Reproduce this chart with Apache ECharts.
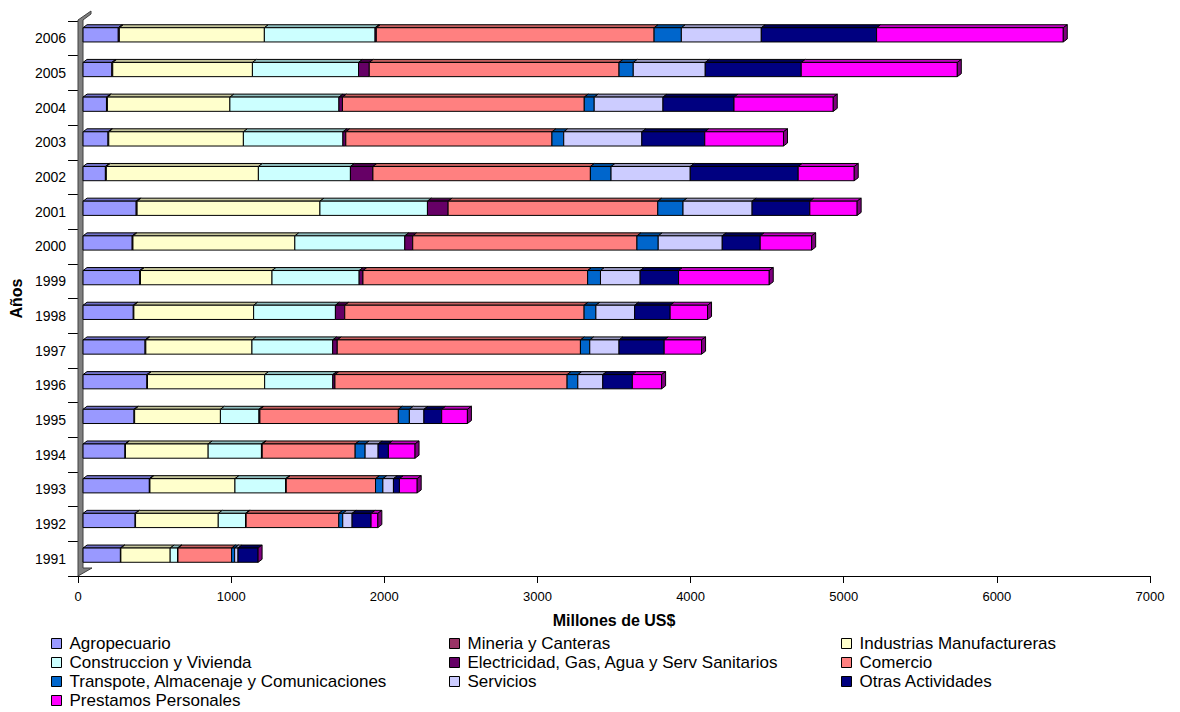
<!DOCTYPE html>
<html>
<head>
<meta charset="utf-8">
<title>Créditos por sector económico 1991-2006</title>
<script src="https://cdn.jsdelivr.net/npm/echarts@6/dist/echarts.min.js"></script>
<style>
  html, body { margin: 0; padding: 0; background: #fff; }
  #chart { width: 1180px; height: 712px; }
</style>
</head>
<body>
<div id="chart"></div>
<script>
// Años (de abajo hacia arriba en el gráfico)
const years = ['1991','1992','1993','1994','1995','1996','1997','1998','1999','2000','2001','2002','2003','2004','2005','2006'];

// Millones de US$ por sector, un valor por año
const agropecuario  = [244, 340, 433, 274, 333, 417, 405, 328, 370, 321, 347, 146, 163, 153, 188, 230];
const mineria       = [3, 3, 4, 3, 4, 4, 5, 4, 5, 5, 6, 6, 5, 6, 6, 7];
const industrias    = [322, 540, 555, 540, 560, 765, 693, 782, 859, 1057, 1194, 993, 879, 800, 912, 947];
const construccion  = [48, 178, 331, 348, 252, 445, 527, 534, 569, 718, 702, 601, 650, 712, 693, 723];
const electricidad  = [3, 4, 4, 5, 6, 14, 30, 61, 25, 52, 135, 147, 19, 23, 70, 8];
const comercio      = [350, 605, 583, 607, 904, 1516, 1588, 1563, 1467, 1464, 1369, 1420, 1346, 1579, 1631, 1814];
const transporte    = [20, 26, 48, 65, 72, 70, 61, 77, 84, 139, 165, 135, 77, 65, 93, 178];
const servicios     = [22, 61, 69, 85, 95, 163, 191, 253, 259, 418, 451, 517, 510, 449, 470, 522];
const otras         = [131, 124, 39, 67, 116, 193, 295, 232, 251, 248, 377, 705, 411, 464, 627, 753];
const prestamos     = [0, 44, 116, 174, 168, 191, 244, 244, 592, 336, 309, 366, 514, 648, 1019, 1219];

// Eje de valores
const xTicks = { min: 0, max: 7000, interval: 1000 };

const sectors = [
  { name: 'Agropecuario', values: agropecuario, color: '#9999FF', top: '#7070C8' },
  { name: 'Mineria y Canteras', values: mineria, color: '#993366', top: '#702550' },
  { name: 'Industrias Manufactureras', values: industrias, color: '#FFFFCC', top: '#C4C49A' },
  { name: 'Construccion y Vivienda', values: construccion, color: '#CCFFFF', top: '#8FBDBD' },
  { name: 'Electricidad, Gas, Agua y Serv Sanitarios', values: electricidad, color: '#660066', top: '#4A004A' },
  { name: 'Comercio', values: comercio, color: '#FF8080', top: '#C45E5E' },
  { name: 'Transpote, Almacenaje y Comunicaciones', values: transporte, color: '#0066CC', top: '#004C99' },
  { name: 'Servicios', values: servicios, color: '#CCCCFF', top: '#9898C0' },
  { name: 'Otras Actividades', values: otras, color: '#000080', top: '#000058' },
  { name: 'Prestamos Personales', values: prestamos, color: '#FF00FF', top: '#BF00BF', side: '#800080' }
];

// Geometría del plano y de la perspectiva oblicua
const GRID = { left: 78, right: 30, top: 21, bottom: 136 };
const SHIFT = { x: 5, y: -3.5 };   // desplazamiento de la cara frontal respecto al eje
const DEPTH = { x: 4, y: -3 };     // profundidad visible de cada barra
const BAR_RATIO = 0.41;            // alto de la cara frontal respecto a la banda

// Inicio acumulado de cada tramo
const starts = [];
let acc = years.map(() => 0);
sectors.forEach(s => {
  starts.push(acc.slice());
  acc = acc.map((v, i) => v + s.values[i]);
});

function makeRender(sector, isLast) {
  return function (params, api) {
    const a = api.value(0), b = api.value(1), cat = api.value(2);
    const p0 = api.coord([a, cat]);
    const p1 = api.coord([b, cat]);
    const band = api.size([0, 1])[1];
    const h = band * BAR_RATIO;
    const x0 = p0[0] + SHIFT.x, x1 = p1[0] + SHIFT.x;
    const yc = p0[1] + SHIFT.y;
    const yt = yc - h / 2, yb = yc + h / 2;
    const children = [];
    const line = { stroke: '#000', lineWidth: 1 };
    if (x1 - x0 > 0.05) {
      children.push({
        type: 'polygon',
        shape: { points: [[x0, yt], [x1, yt], [x1 + DEPTH.x, yt + DEPTH.y], [x0 + DEPTH.x, yt + DEPTH.y]] },
        style: Object.assign({ fill: sector.top }, line)
      });
      children.push({
        type: 'rect',
        shape: { x: x0, y: yt, width: x1 - x0, height: h },
        style: Object.assign({ fill: sector.color }, line)
      });
    }
    if (isLast) {
      children.push({
        type: 'polygon',
        shape: { points: [[x1, yt], [x1 + DEPTH.x, yt + DEPTH.y], [x1 + DEPTH.x, yb + DEPTH.y], [x1, yb]] },
        style: Object.assign({ fill: sector.side }, line)
      });
    }
    return { type: 'group', children: children };
  };
}

const series = sectors.map((s, k) => ({
  name: s.name,
  type: 'custom',
  renderItem: makeRender(s, k === sectors.length - 1),
  itemStyle: { color: s.color },
  encode: { x: [0, 1], y: 2 },
  clip: false,
  z: 10,
  data: years.map((y, i) => [starts[k][i], starts[k][i] + s.values[i], i])
}));

const FONT = "'Liberation Sans', Arial, sans-serif";

// Leyenda en tres columnas, ordenada por filas
const legendColX = [51, 449, 841];
const legendRowY = [644, 663, 682, 701];
const legends = sectors.map((s, k) => ({
  orient: 'horizontal',
  left: legendColX[k % 3],
  top: legendRowY[Math.floor(k / 3)] - 9,
  itemWidth: 10,
  itemHeight: 10,
  padding: 0,
  icon: 'rect',
  selectedMode: false,
  itemStyle: { borderColor: '#000', borderWidth: 1 },
  textStyle: { fontFamily: FONT, fontSize: 17, lineHeight: 17, color: '#000', padding: [0, 0, 0, 3] },
  data: [s.name]
}));

// Pared lateral gris del gráfico 3D
const L = GRID.left, T = GRID.top, B = 712 - GRID.bottom;
const wall = {
  type: 'polygon',
  z: 1,
  shape: { points: [[L, T - 1], [L + 13, T - 10], [L + 13, T - 7], [L + 5, T - 1], [L + 5, B - 8], [L + 14, B - 8], [L, B]] },
  style: { fill: '#808080', stroke: '#404040', lineWidth: 1 }
};

const chart = echarts.init(document.getElementById('chart'), null, { renderer: 'svg' });
chart.setOption({
  animation: false,
  backgroundColor: '#fff',
  grid: GRID,
  graphic: [wall],
  legend: legends,
  xAxis: {
    type: 'value',
    min: xTicks.min, max: xTicks.max, interval: xTicks.interval,
    axisLine: { show: true, lineStyle: { color: '#000', width: 1 } },
    axisTick: { show: true, length: 7, lineStyle: { color: '#000' } },
    axisLabel: { fontFamily: FONT, fontSize: 13, color: '#000', margin: 14, formatter: v => String(v) },
    splitLine: { show: false },
    name: 'Millones de US$',
    nameLocation: 'middle',
    nameGap: 36,
    nameTextStyle: { fontFamily: FONT, fontSize: 16, fontWeight: 'bold', color: '#000' }
  },
  yAxis: {
    type: 'category',
    data: years,
    axisLine: { show: true, lineStyle: { color: '#000', width: 1 } },
    axisTick: { show: true, length: 10, lineStyle: { color: '#000' } },
    axisLabel: { fontFamily: FONT, fontSize: 14, color: '#000', margin: 12 },
    name: 'Años',
    nameLocation: 'middle',
    nameGap: 52,
    nameRotate: 90,
    nameTextStyle: { fontFamily: FONT, fontSize: 16, fontWeight: 'bold', color: '#000' }
  },
  series: series
});
</script>
</body>
</html>
